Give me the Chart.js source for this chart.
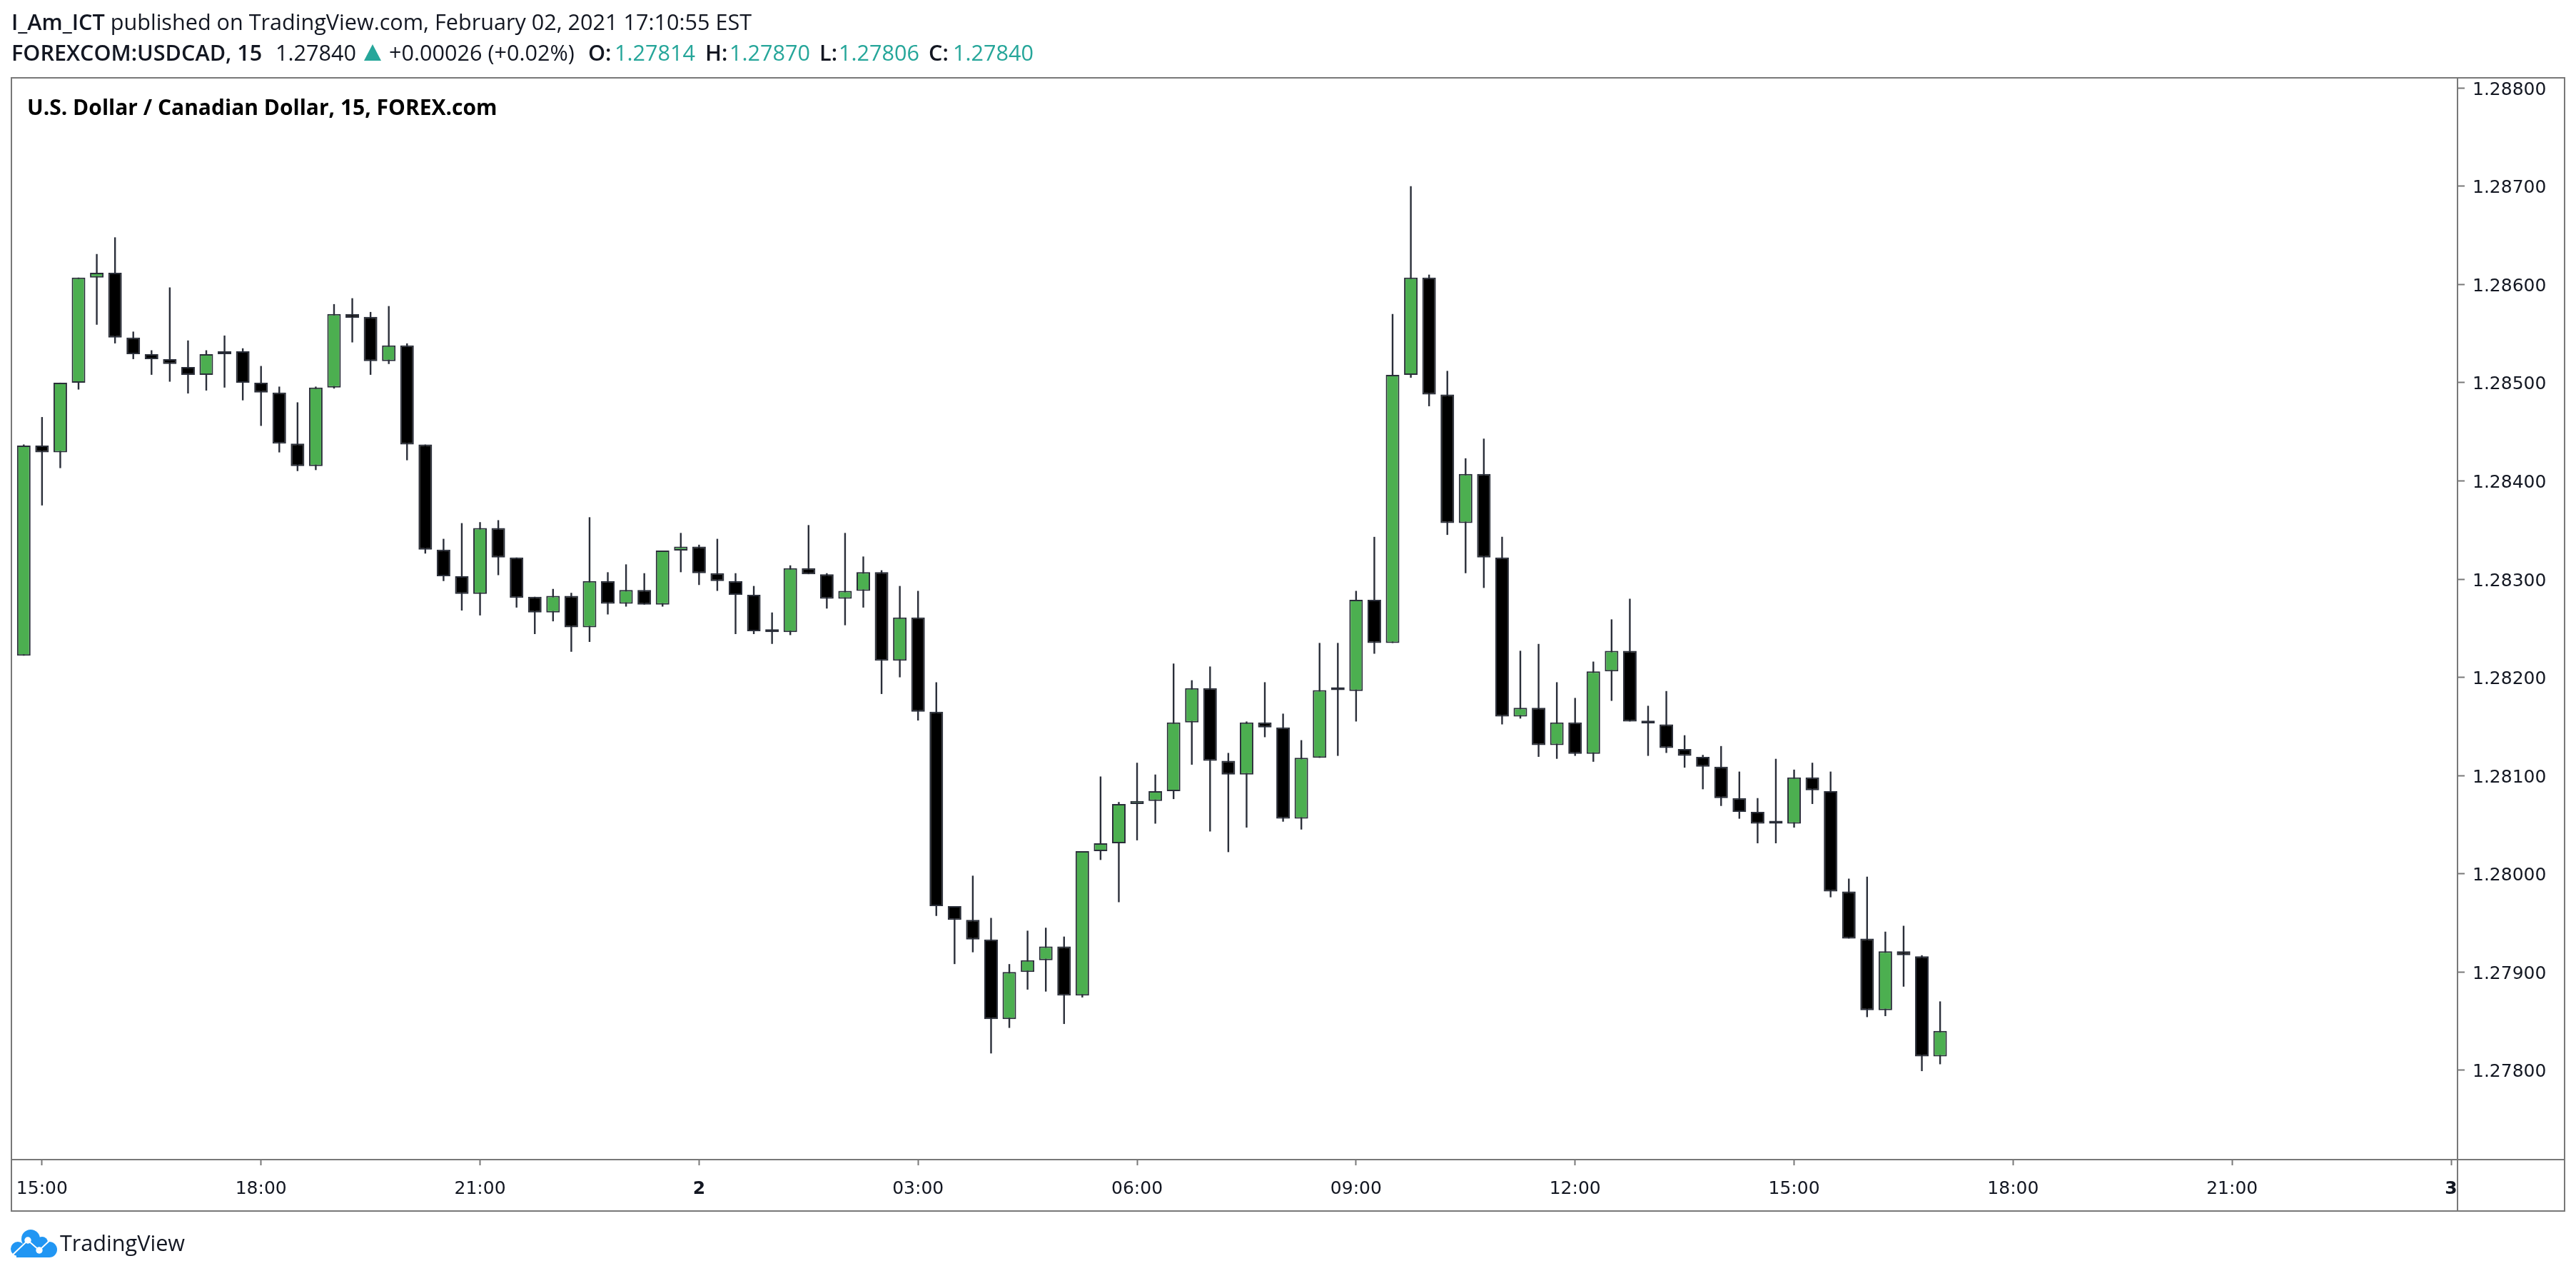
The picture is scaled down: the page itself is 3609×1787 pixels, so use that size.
<!DOCTYPE html>
<html>
<head>
<meta charset="utf-8">
<title>USDCAD 15</title>
<script src="https://cdn.jsdelivr.net/npm/chart.js@4"></script>
<style>
  html, body { margin: 0; padding: 0; background: #fff; }
  body { width: 3609px; height: 1787px; position: relative; overflow: hidden; font-family: "Open Sans", sans-serif; color: #131722; }
  canvas { position: absolute; left: 0; top: 0; }
  .txt { position: absolute; white-space: pre; font-size: 30.6px; line-height: 36px; }
  .b { font-weight: 600; }
  .up { color: #26a69a; }
  .row2 { top: 55px; }
  .tri { position: absolute; left: 510px; top: 62px; width: 24px; height: 23px; background: #26a69a; clip-path: polygon(50% 0, 100% 100%, 0 100%); }
</style>
</head>
<body>
<canvas id="chart" width="3609" height="1787"></canvas>
<div class="txt" style="left:16px;top:12px"><span class="b">I_Am_ICT</span> published on TradingView.com, February 02, 2021 17:10:55 EST</div>
<div class="txt row2 b" style="left:16px">FOREXCOM:USDCAD, 15</div>
<div class="txt row2" style="left:386px">1.27840</div>
<div class="tri"></div>
<div class="txt row2" style="left:545px">+0.00026 (+0.02%)</div>
<div class="txt row2 b" style="left:824px">O:</div><div class="txt row2 up" style="left:861px">1.27814</div>
<div class="txt row2 b" style="left:988px">H:</div><div class="txt row2 up" style="left:1022px">1.27870</div>
<div class="txt row2 b" style="left:1148px">L:</div><div class="txt row2 up" style="left:1175px">1.27806</div>
<div class="txt row2 b" style="left:1301px">C:</div><div class="txt row2 up" style="left:1335px">1.27840</div>
<div class="txt" style="left:38px;top:132px;color:#000;font-weight:700;font-size:30px">U.S. Dollar / Canadian Dollar, 15, FOREX.com</div>
<svg style="position:absolute;left:15px;top:1722px" width="65" height="39" viewBox="0 0 65 39">
  <g fill="#2196f3">
    <circle cx="28" cy="13" r="13"/><circle cx="10" cy="27" r="10"/><circle cx="54" cy="28" r="11"/>
    <circle cx="44" cy="18" r="8"/>
    <rect x="8" y="20" width="46" height="19"/>
  </g>
  <polyline points="2,36 24,15 40,29 57,13" fill="none" stroke="#fff" stroke-width="2"/>
  <circle cx="24" cy="15" r="4.7" fill="#fff"/><circle cx="40" cy="29" r="4.7" fill="#fff"/>
</svg>
<div class="txt" style="left:84px;top:1722px">TradingView</div>
<script>
const opens = [
  1.28222, 1.28436, 1.28429, 1.28500, 1.28607, 1.28612, 1.28546, 1.28529, 1.28524, 1.28516,
  1.28508, 1.28532, 1.28532, 1.28500, 1.28490, 1.28438, 1.28415, 1.28495, 1.28570, 1.28567,
  1.28522, 1.28538, 1.28437, 1.28330, 1.28303, 1.28285, 1.28352, 1.28322, 1.28282, 1.28266,
  1.28283, 1.28251, 1.28298, 1.28275, 1.28289, 1.28274, 1.28329, 1.28333, 1.28306, 1.28298,
  1.28284, 1.28247, 1.28246, 1.28311, 1.28305, 1.28280, 1.28288, 1.28307, 1.28217, 1.28261,
  1.28165, 1.27967, 1.27953, 1.27933, 1.27852, 1.27900, 1.27912, 1.27926, 1.27876, 1.28023,
  1.28031, 1.28071, 1.28074, 1.28084, 1.28154, 1.28189, 1.28115, 1.28101, 1.28154, 1.28149,
  1.28056, 1.28118, 1.28187, 1.28186, 1.28279, 1.28235, 1.28508, 1.28607, 1.28488, 1.28357,
  1.28407, 1.28322, 1.28160, 1.28169, 1.28131, 1.28154, 1.28122, 1.28206, 1.28227, 1.28154,
  1.28152, 1.28127, 1.28119, 1.28109, 1.28077, 1.28063, 1.28051, 1.28051, 1.28098, 1.28084,
  1.27982, 1.27934, 1.27861, 1.27921, 1.27916, 1.27814
];
const highs = [
  1.28437, 1.28465, 1.28500, 1.28607, 1.28631, 1.28648, 1.28552, 1.28533, 1.28597, 1.28543,
  1.28533, 1.28548, 1.28535, 1.28517, 1.28496, 1.28480, 1.28496, 1.28580, 1.28586, 1.28572,
  1.28578, 1.28540, 1.28437, 1.28341, 1.28357, 1.28358, 1.28360, 1.28322, 1.28282, 1.28290,
  1.28286, 1.28363, 1.28307, 1.28315, 1.28306, 1.28329, 1.28347, 1.28335, 1.28341, 1.28306,
  1.28293, 1.28266, 1.28314, 1.28355, 1.28306, 1.28347, 1.28323, 1.28309, 1.28293, 1.28288,
  1.28195, 1.27967, 1.27998, 1.27955, 1.27908, 1.27942, 1.27945, 1.27936, 1.28023, 1.28099,
  1.28073, 1.28113, 1.28101, 1.28214, 1.28197, 1.28211, 1.28123, 1.28155, 1.28195, 1.28163,
  1.28136, 1.28235, 1.28235, 1.28288, 1.28343, 1.28570, 1.28700, 1.28610, 1.28512, 1.28423,
  1.28443, 1.28343, 1.28227, 1.28234, 1.28195, 1.28179, 1.28216, 1.28259, 1.28280, 1.28171,
  1.28186, 1.28141, 1.28121, 1.28130, 1.28104, 1.28077, 1.28117, 1.28106, 1.28113, 1.28104,
  1.27995, 1.27997, 1.27941, 1.27947, 1.27917, 1.27870
];
const lows = [
  1.28222, 1.28375, 1.28413, 1.28493, 1.28559, 1.28540, 1.28524, 1.28508, 1.28501, 1.28489,
  1.28492, 1.28495, 1.28482, 1.28456, 1.28429, 1.28410, 1.28411, 1.28494, 1.28541, 1.28508,
  1.28519, 1.28421, 1.28326, 1.28298, 1.28268, 1.28263, 1.28304, 1.28271, 1.28244, 1.28257,
  1.28226, 1.28236, 1.28264, 1.28272, 1.28274, 1.28272, 1.28307, 1.28294, 1.28288, 1.28244,
  1.28244, 1.28234, 1.28243, 1.28305, 1.28270, 1.28253, 1.28271, 1.28183, 1.28200, 1.28156,
  1.27957, 1.27908, 1.27920, 1.27817, 1.27843, 1.27882, 1.27880, 1.27847, 1.27874, 1.28014,
  1.27971, 1.28034, 1.28051, 1.28076, 1.28111, 1.28043, 1.28022, 1.28047, 1.28139, 1.28053,
  1.28045, 1.28118, 1.28120, 1.28155, 1.28224, 1.28235, 1.28505, 1.28476, 1.28345, 1.28306,
  1.28291, 1.28152, 1.28158, 1.28119, 1.28117, 1.28120, 1.28114, 1.28176, 1.28155, 1.28120,
  1.28123, 1.28108, 1.28086, 1.28069, 1.28056, 1.28031, 1.28031, 1.28047, 1.28071, 1.27976,
  1.27934, 1.27854, 1.27855, 1.27885, 1.27799, 1.27806
];
const closes = [
  1.28436, 1.28429, 1.28500, 1.28607, 1.28612, 1.28546, 1.28529, 1.28524, 1.28519, 1.28508,
  1.28529, 1.28529, 1.28500, 1.28490, 1.28438, 1.28415, 1.28495, 1.28570, 1.28566, 1.28522,
  1.28538, 1.28437, 1.28330, 1.28303, 1.28285, 1.28352, 1.28322, 1.28281, 1.28266, 1.28283,
  1.28251, 1.28298, 1.28275, 1.28289, 1.28274, 1.28329, 1.28333, 1.28306, 1.28298, 1.28284,
  1.28247, 1.28246, 1.28311, 1.28305, 1.28280, 1.28288, 1.28307, 1.28217, 1.28261, 1.28165,
  1.27967, 1.27953, 1.27933, 1.27852, 1.27900, 1.27912, 1.27926, 1.27876, 1.28023, 1.28031,
  1.28071, 1.28074, 1.28084, 1.28154, 1.28189, 1.28115, 1.28101, 1.28154, 1.28149, 1.28056,
  1.28118, 1.28187, 1.28187, 1.28279, 1.28235, 1.28508, 1.28607, 1.28488, 1.28357, 1.28407,
  1.28322, 1.28160, 1.28169, 1.28131, 1.28154, 1.28122, 1.28206, 1.28227, 1.28155, 1.28153,
  1.28128, 1.28120, 1.28109, 1.28077, 1.28063, 1.28051, 1.28051, 1.28098, 1.28085, 1.27982,
  1.27934, 1.27861, 1.27921, 1.27917, 1.27814, 1.27840
];

// minutes since Feb 1 00:00, first bar is 14:45, one bar every 15 min
const firstBarMinute = 885;
const barMinutes = 15;
const timeTicks = [900, 1080, 1260, 1440, 1620, 1800, 1980, 2160, 2340, 2520, 2700, 2880];
const timeLabels = ['15:00', '18:00', '21:00', '2', '03:00', '06:00', '09:00', '12:00', '15:00', '18:00', '21:00', '3'];
const priceTicks = [1.278, 1.279, 1.28, 1.281, 1.282, 1.283, 1.284, 1.285, 1.286, 1.287, 1.288];

const lineColor = '#787878';
const candleEdge = '#2a2e39';
const labelFont = 'DejaVu Sans';

const barX = opens.map((o, i) => firstBarMinute + i * barMinutes);
const bodies = opens.map((o, i) => ({ x: barX[i], y: [o, closes[i]] }));
const wicks = lows.map((l, i) => ({ x: barX[i], y: [l, highs[i]] }));

// the outer box of the pane, price scale and time scale
const framePlugin = {
  id: 'frame',
  afterDraw(chart) {
    const { ctx, chartArea } = chart;
    ctx.save();
    ctx.strokeStyle = lineColor;
    ctx.lineWidth = 2;
    ctx.strokeRect(16, chartArea.top, 3593 - 16, 1696 - chartArea.top);
    ctx.beginPath();
    ctx.moveTo(16, chartArea.bottom);
    ctx.lineTo(3593, chartArea.bottom);
    ctx.moveTo(chartArea.right, chartArea.top);
    ctx.lineTo(chartArea.right, 1696);
    ctx.stroke();
    ctx.restore();
  }
};

new Chart(document.getElementById('chart'), {
  type: 'bar',
  data: {
    datasets: [
      {
        label: 'body',
        data: bodies,
        order: 1,
        grouped: false,
        barThickness: 19,
        minBarLength: 4,
        inflateAmount: 0,
        borderSkipped: false,
        borderWidth: 2,
        borderColor: candleEdge,
        backgroundColor: opens.map((o, i) => closes[i] >= o ? '#4caf50' : '#000000')
      },
      {
        label: 'wick',
        data: wicks,
        order: 2,
        grouped: false,
        barThickness: 2.4,
        inflateAmount: 0,
        borderWidth: 0,
        backgroundColor: candleEdge
      }
    ]
  },
  plugins: [framePlugin],
  options: {
    responsive: false,
    animation: false,
    devicePixelRatio: 1,
    layout: { padding: { left: 16, top: 109, right: 16, bottom: 91 } },
    plugins: { legend: { display: false }, title: { display: false }, tooltip: { enabled: false } },
    scales: {
      x: {
        type: 'linear',
        offset: false,
        min: 874.85,
        max: 2885.25,
        afterBuildTicks(scale) { scale.ticks = timeTicks.map(v => ({ value: v })); },
        afterFit(scale) { scale.height = 72; },
        border: { display: false },
        grid: { offset: false, drawOnChartArea: false, tickLength: 8, tickWidth: 2, tickColor: lineColor },
        ticks: {
          autoSkip: false,
          maxRotation: 0,
          padding: 18,
          color: '#131722',
          font: ctx => ({ family: labelFont, size: 25, weight: ctx.tick && timeLabels[timeTicks.indexOf(ctx.tick.value)].length === 1 ? 'bold' : 'normal' }),
          callback: value => timeLabels[timeTicks.indexOf(value)]
        }
      },
      y: {
        position: 'right',
        min: 1.277089,
        max: 1.288104,
        afterBuildTicks(scale) { scale.ticks = priceTicks.map(v => ({ value: v })); },
        afterFit(scale) { scale.width = 150; },
        border: { display: false },
        grid: { drawOnChartArea: false, tickLength: 10, tickWidth: 2, tickColor: lineColor },
        ticks: {
          padding: 11,
          color: '#131722',
          // empty first line with a small line height nudges the label 3px below its tick
          font: { family: labelFont, size: 25, lineHeight: '6px' },
          callback: value => ['', value.toFixed(5)]
        }
      }
    }
  }
});
</script>
</body>
</html>
